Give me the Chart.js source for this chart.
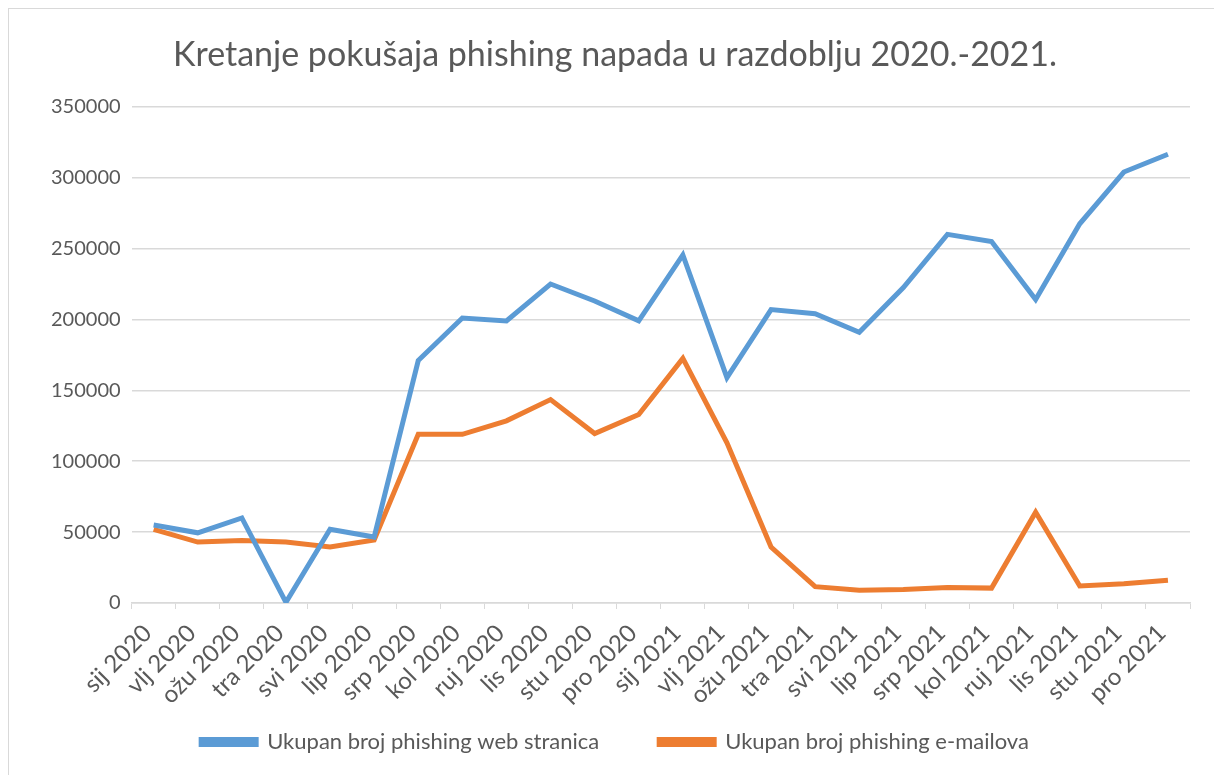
<!DOCTYPE html>
<html>
<head>
<meta charset="utf-8">
<script src="https://cdn.jsdelivr.net/npm/chart.js@4/dist/chart.umd.min.js"></script>
<style>
    body { margin: 0; background: #fff; }
    #frame {
        position: absolute; left: 8px; top: 8px;
        width: 1220px; height: 780px;
        border: 1px solid #D9D9D9;
    }
    #wrap { position: absolute; left: 0; top: 0; width: 1214px; height: 775px; }
</style>
</head>
<body>
<div id="frame"></div>
<div id="wrap"><canvas id="chart"></canvas></div>
<script>
// ========================================
// DATA
// ========================================

const months = [
    'sij 2020', 'vlj 2020', 'ožu 2020', 'tra 2020', 'svi 2020', 'lip 2020',
    'srp 2020', 'kol 2020', 'ruj 2020', 'lis 2020', 'stu 2020', 'pro 2020',
    'sij 2021', 'vlj 2021', 'ožu 2021', 'tra 2021', 'svi 2021', 'lip 2021',
    'srp 2021', 'kol 2021', 'ruj 2021', 'lis 2021', 'stu 2021', 'pro 2021'
];

const webPages = [
    55000, 49500, 60000, 500, 52000, 46500,
    171000, 201000, 199000, 225000, 213000, 199000,
    245500, 159000, 207000, 204000, 191000, 222500,
    260000, 255000, 214000, 267500, 304000, 316500
];

const emails = [
    52000, 43000, 44000, 43000, 39500, 44500,
    119000, 119000, 128500, 143500, 119500, 133000,
    172500, 113000, 39500, 11500, 9000, 9500,
    11000, 10500, 64000, 12000, 13500, 16000
];

const yTicks = [0, 50000, 100000, 150000, 200000, 250000, 300000, 350000];

const BLUE = '#5B9BD5';
const ORANGE = '#ED7D31';
const GRID = '#D9D9D9';
const TEXT = '#595959';
const FONT = "Lato, 'Open Sans', sans-serif";

// ========================================
// CHART
// ========================================

const ctx = document.getElementById('chart').getContext('2d');

new Chart(ctx, {
    type: 'line',
    data: {
        labels: months,
        datasets: [
            {
                label: 'Ukupan broj phishing web stranica',
                data: webPages,
                borderColor: BLUE,
                backgroundColor: BLUE,
                borderWidth: 5,
                pointRadius: 0,
                tension: 0
            },
            {
                label: 'Ukupan broj phishing e-mailova',
                data: emails,
                borderColor: ORANGE,
                backgroundColor: ORANGE,
                borderWidth: 5,
                pointRadius: 0,
                tension: 0
            }
        ]
    },
    options: {
        responsive: true,
        maintainAspectRatio: false,
        animation: false,
        layout: {
            padding: { left: 40, right: 24, top: 35, bottom: 12 }
        },
        plugins: {
            title: {
                display: true,
                text: 'Kretanje pokušaja phishing napada u razdoblju 2020.-2021.',
                color: TEXT,
                font: { family: FONT, size: 34, weight: 'normal' },
                padding: { top: 0, bottom: 31 }
            },
            legend: {
                position: 'bottom',
                labels: {
                    color: TEXT,
                    font: { family: FONT, size: 22 },
                    boxWidth: 55,
                    boxHeight: 5,
                    padding: 60
                }
            },
            tooltip: { enabled: false }
        },
        scales: {
            x: {
                offset: true,
                grid: {
                    offset: true,
                    drawOnChartArea: false,
                    drawTicks: true,
                    tickLength: 6,
                    color: GRID
                },
                border: { color: GRID, width: 1.5 },
                ticks: {
                    color: TEXT,
                    font: { family: FONT, size: 24 },
                    maxRotation: 45,
                    minRotation: 45,
                    autoSkip: false,
                    padding: 10,
                    labelOffset: -6
                },
                afterFit(scale) {
                    scale.height = 68;
                    // let the rotated labels hang below the box, over the legend's top padding
                    scale._computeLabelArea = () => undefined;
                }
            },
            y: {
                min: 0,
                max: 350000,
                afterBuildTicks(scale) {
                    scale.ticks = yTicks.map(v => ({ value: v }));
                },
                grid: {
                    color: GRID,
                    lineWidth: 1.5,
                    drawTicks: false
                },
                border: { display: false },
                ticks: {
                    color: TEXT,
                    font: { family: FONT, size: 20 },
                    padding: 11,
                    callback: v => String(v)
                }
            }
        }
    }
});
</script>
</body>
</html>
